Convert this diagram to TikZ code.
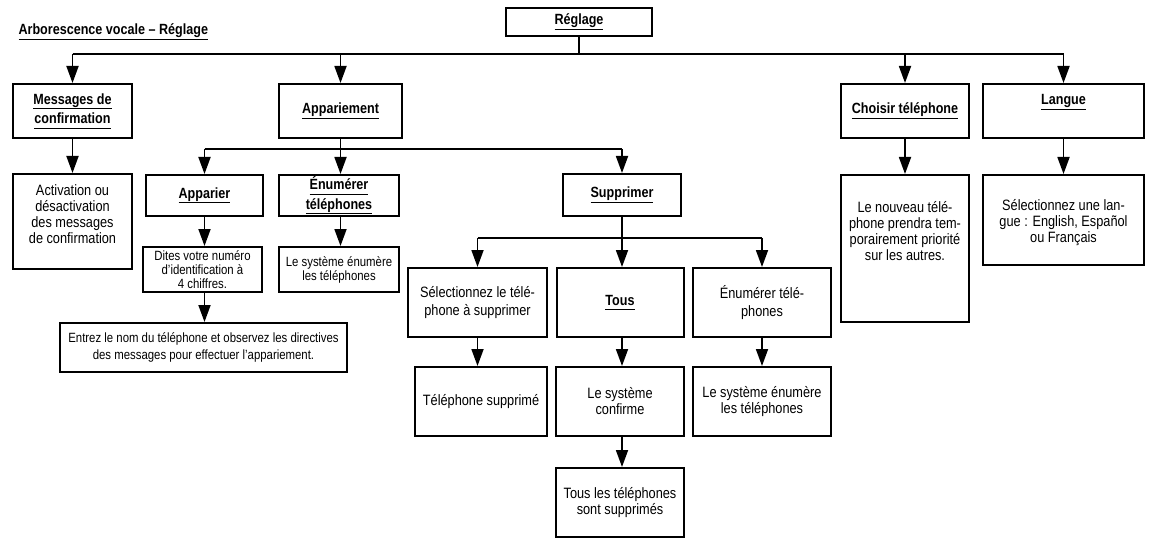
\documentclass[tikz,border=0pt]{standalone}
\usepackage{fontspec}
\setmainfont{Liberation Sans}[FakeStretch=0.85]
\usetikzlibrary{arrows.meta}
\newcommand\myul[1]{{\setbox0\hbox{#1}\rlap{\rule[-5pt]{\wd0}{1pt}}\box0}}
\begin{document}
\begin{tikzpicture}[x=1pt,y=-1pt,
  box/.style={draw, line width=2pt, inner sep=0pt},
  arr/.style={line width=1.8pt, -{Triangle[length=17pt,width=12pt]}},
  ln/.style={line width=1.8pt},
  txt/.style={align=center, font=\fontsize{15}{16}\selectfont},
  txtw/.style={align=center, font=\fontsize{15}{18}\selectfont},
  ttl/.style={align=center, font=\bfseries\fontsize{14.8}{19.5}\selectfont},
  sm/.style={align=center, font=\fontsize{13.4}{14}\selectfont}]
\useasboundingbox (0,0) rectangle (1153,540);

\node[anchor=base west, font=\bfseries\fontsize{14.8}{16}\selectfont] (title) at (15,35) {\myul{Arborescence vocale – Réglage}};

% level 0
\node[box, minimum width=146pt, minimum height=28pt, ttl] (reg) at (579,22) {\myul{Réglage}};

% level 1
\node[box, minimum width=119pt, minimum height=54pt, ttl] (msg) at (72.5,111) {\myul{Messages de}\\\myul{confirmation}};
\node[box, minimum width=123pt, minimum height=54pt, ttl] (app) at (340.5,111) {\myul{Appariement}};
\node[box, minimum width=128pt, minimum height=54pt, ttl] (cho) at (905,111) {\myul{Choisir téléphone}};
\node[box, minimum width=161pt, minimum height=54pt] (lan) at (1063.5,111) {};
\node[ttl] (lanT) at (1063.5,102) {\myul{Langue}};

% level 2
\node[box, minimum width=119pt, minimum height=95pt] (act) at (72.5,221.5) {};
\node[txt] (actT) at (72.5,214) {Activation ou\\désactivation\\des messages\\de confirmation};
\node[box, minimum width=117pt, minimum height=41pt, ttl] (apr) at (204.5,195.5) {\myul{Apparier}};
\node[box, minimum width=120pt, minimum height=41pt, ttl] (enu) at (339,195.5) {\myul{Énumérer}\\\myul{téléphones}};
\node[box, minimum width=118pt, minimum height=42pt, ttl] (sup) at (622,195) {\myul{Supprimer}};
\node[box, minimum width=128pt, minimum height=147pt] (nou) at (905,248.5) {};
\node[txt] (nouT) at (905,231) {Le nouveau télé-\\phone prendra tem-\\porairement priorité\\sur les autres.};
\node[box, minimum width=161pt, minimum height=90pt] (lsel) at (1063.5,220) {};
\node[txt] (lselT) at (1063.5,223) {Sélectionnez une lan-\\gue : English, Español\\ou Français};

% level 3
\node[box, minimum width=119pt, minimum height=45pt, sm] (dit) at (202.5,269.5) {Dites votre numéro\\d’identification à\\4 chiffres.};
\node[box, minimum width=120pt, minimum height=45pt, sm] (les) at (339,269.5) {Le système énumère\\les téléphones};
\node[box, minimum width=287pt, minimum height=49pt, align=center, font=\fontsize{13.4}{17}\selectfont] (ent) at (203.5,347.5) {Entrez le nom du téléphone et observez les directives\\des messages pour effectuer l’appariement.};

\node[box, minimum width=139pt, minimum height=69pt, txtw] (sst) at (477.5,302.5) {Sélectionnez le télé-\\phone à supprimer};
\node[box, minimum width=127pt, minimum height=69pt, ttl] (tou) at (620,302.5) {\myul{Tous}};
\node[box, minimum width=138pt, minimum height=69pt, txtw] (en2) at (762,302.5) {Énumérer télé-\\phones};

\node[box, minimum width=132pt, minimum height=69pt, txt] (tsu) at (481,401.5) {Téléphone supprimé};
\node[box, minimum width=128pt, minimum height=69pt, txt] (sco) at (620,401.5) {Le système\\confirme};
\node[box, minimum width=138pt, minimum height=69pt, txt] (sen) at (762,401.5) {Le système énumère\\les téléphones};
\node[box, minimum width=128pt, minimum height=69pt, txt] (tls) at (620,502.5) {Tous les téléphones\\sont supprimés};

% connectors
\coordinate (bus0) at (0,54);
\coordinate (bus1) at (0,149);
\coordinate (bus2) at (0,238);

\draw[ln] (reg.south) -- (reg.south |- bus0);
\draw[ln] (msg.north |- bus0) -- (lan.north |- bus0);
\draw[arr] (msg.north |- bus0) -- (msg.north);
\draw[arr] (app.north |- bus0) -- (app.north);
\draw[arr] (cho.north |- bus0) -- (cho.north);
\draw[arr] (lan.north |- bus0) -- (lan.north);

\draw[arr] (msg.south) -- (act.north);
\draw[arr] (cho.south) -- (nou.north);
\draw[arr] (lan.south) -- (lsel.north);

\draw[ln] (app.south) -- (app.south |- bus1);
\draw[ln] (apr.north |- bus1) -- (sup.north |- bus1);
\draw[arr] (apr.north |- bus1) -- (apr.north);
\draw[arr] (app.south |- bus1) -- (app.south |- enu.north);
\draw[arr] (sup.north |- bus1) -- (sup.north);

\draw[arr] (apr.south) -- (apr.south |- dit.north);
\draw[arr] (apr.south |- dit.south) -- (apr.south |- ent.north);
\draw[arr] (app.south |- enu.south) -- (app.south |- les.north);

\draw[ln] (sup.south) -- (sup.south |- bus2);
\draw[ln] (sst.north |- bus2) -- (en2.north |- bus2);
\draw[arr] (sst.north |- bus2) -- (sst.north);
\draw[arr] (sup.south |- bus2) -- (sup.south |- tou.north);
\draw[arr] (en2.north |- bus2) -- (en2.north);

\draw[arr] (sst.south) -- (sst.south |- tsu.north);
\draw[arr] (sup.south |- tou.south) -- (sup.south |- sco.north);
\draw[arr] (en2.south) -- (sen.north);
\draw[arr] (sup.south |- sco.south) -- (sup.south |- tls.north);
\end{tikzpicture}
\end{document}
